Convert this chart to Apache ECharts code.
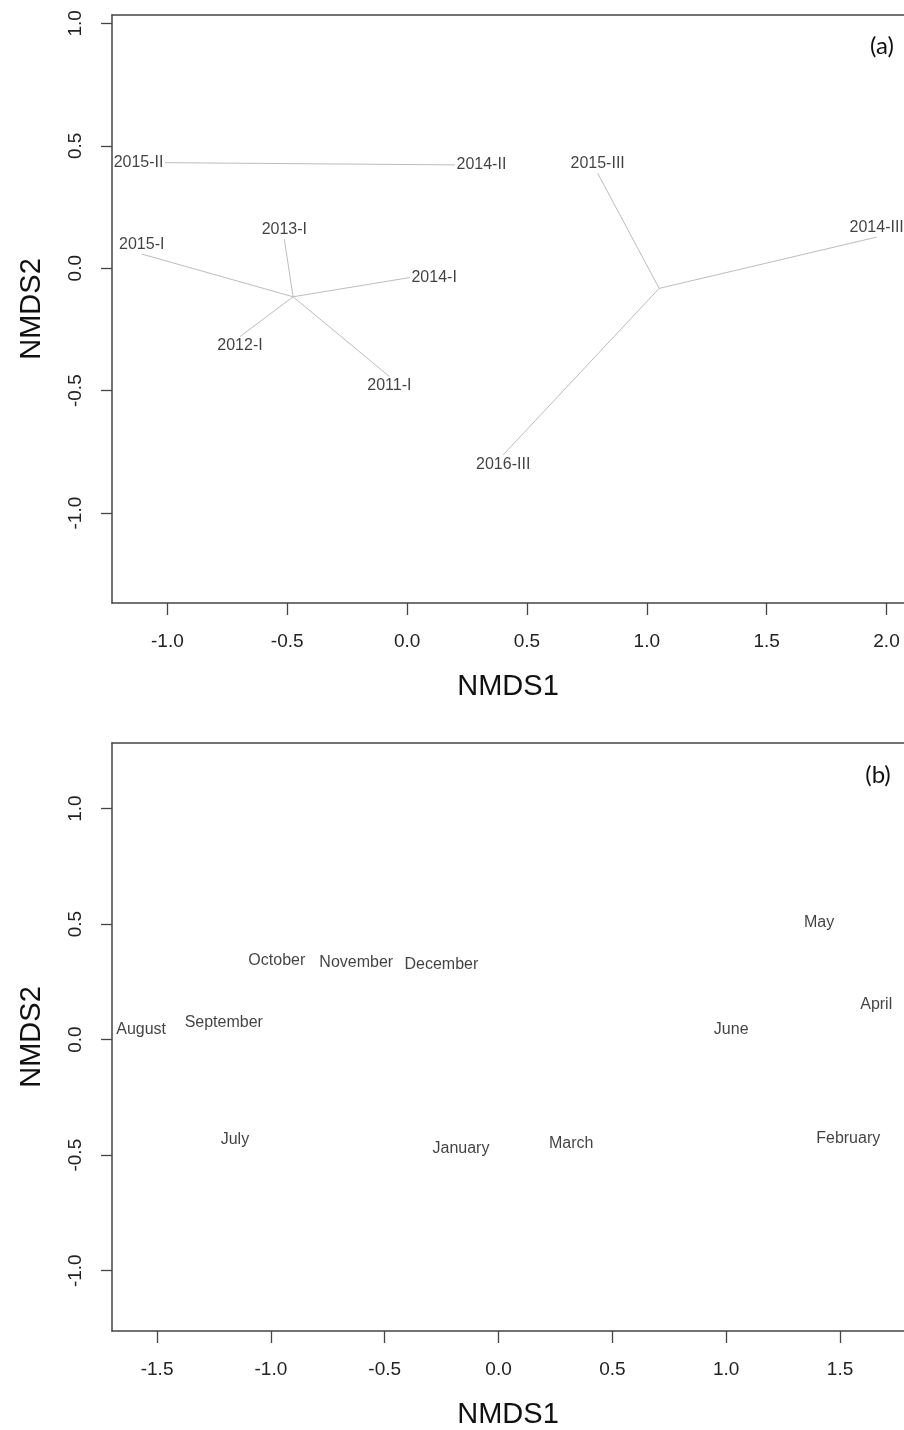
<!DOCTYPE html>
<html><head><meta charset="utf-8">
<script src="https://cdn.jsdelivr.net/npm/echarts@6/dist/echarts.min.js"></script>
<style>html,body{margin:0;padding:0;background:#fff}#c{width:904px;height:1430px}</style>
</head><body><div id="c"></div>
<script>
// ---------- Panel (a): sites, grouped (spider to group centroid) ----------
const sitesA  = ['2011-I','2012-I','2013-I','2014-I','2015-I','2014-II','2015-II','2014-III','2015-III','2016-III'];
const groupA  = ['I','I','I','I','I','II','II','III','III','III'];
const nmds1A  = [-0.074,-0.697,-0.512, 0.012,-1.107, 0.200,-1.010, 1.959, 0.795, 0.401];
const nmds2A  = [-0.442,-0.279, 0.118,-0.038, 0.058, 0.422, 0.431, 0.127, 0.388,-0.762];
const ticksAx = [-1.0,-0.5,0.0,0.5,1.0,1.5,2.0];
const ticksAy = [-1.0,-0.5,0.0,0.5,1.0];

// ---------- Panel (b): months ----------
const months  = ['January','February','March','April','May','June','July','August','September','October','November','December'];
const nmds1B  = [-0.165, 1.536, 0.319, 1.659, 1.408, 1.022,-1.158,-1.570,-1.207,-0.974,-0.625,-0.251];
const nmds2B  = [-0.473,-0.430,-0.452, 0.151, 0.508, 0.044,-0.433, 0.045, 0.072, 0.341, 0.332, 0.326];
const ticksBx = [-1.5,-1.0,-0.5,0.0,0.5,1.0,1.5];
const ticksBy = [-1.0,-0.5,0.0,0.5,1.0];

// ---------- styling ----------
const FONT = 'Liberation Sans, Arial, Helvetica, sans-serif';
const AX = '#444';
const labelSide = {'2011-I':'bottom','2012-I':'bottom','2013-I':'top','2014-I':'right','2015-I':'top',
  '2014-II':'right','2015-II':'left','2014-III':'top','2015-III':'top','2016-III':'bottom'};

// centroids (ordispider)
const cent = {};
groupA.forEach((g,i)=>{ if(!cent[g]) cent[g]={x:0,y:0,n:0}; cent[g].x+=nmds1A[i]; cent[g].y+=nmds2A[i]; cent[g].n++; });
const spider = sitesA.map((s,i)=>{ const c=cent[groupA[i]]; return {coords:[[c.x/c.n,c.y/c.n],[nmds1A[i],nmds2A[i]]]}; });

const fmt = v => Number(v).toFixed(1);
function xAxes(gi, min, max, ticks){
  return [
    {gridIndex:gi, type:'value', position:'bottom', min, max,
     axisLine:{show:true,onZero:false,lineStyle:{color:AX,width:1.5}},
     axisTick:{show:true,length:12,customValues:ticks,lineStyle:{color:AX,width:1.3}},
     axisLabel:{customValues:ticks,formatter:fmt,margin:29,fontSize:19,color:'#222',fontFamily:FONT},
     splitLine:{show:false},
     name:'NMDS1',nameLocation:'middle',nameGap:69,
     nameTextStyle:{fontSize:29,color:'#111',fontFamily:FONT}},
    {gridIndex:gi, type:'value', position:'top', min, max,
     axisLine:{show:true,onZero:false,lineStyle:{color:AX,width:1.5}},
     axisTick:{show:false}, axisLabel:{show:false}, splitLine:{show:false}}
  ];
}
function yAxis(gi, min, max, ticks){
  return {gridIndex:gi, type:'value', position:'left', min, max,
    axisLine:{show:true,onZero:false,lineStyle:{color:AX,width:1.5}},
    axisTick:{show:true,length:11,customValues:ticks,lineStyle:{color:AX,width:1.3}},
    axisLabel:{customValues:ticks,formatter:fmt,rotate:90,margin:27,fontSize:19,color:'#222',fontFamily:FONT},
    splitLine:{show:false},
    name:'NMDS2',nameLocation:'middle',nameGap:66,
    nameTextStyle:{fontSize:29,color:'#111',fontFamily:FONT}};
}

const chart = echarts.init(document.getElementById('c'), null, {renderer:'canvas'});
chart.setOption({
  animation:false,
  backgroundColor:'#fff',
  grid:[
    {left:112, right:0, top:15, height:588},
    {left:112, right:0, top:743, height:588}
  ],
  xAxis:[...xAxes(0,-1.231,2.073,ticksAx), ...xAxes(1,-1.698,1.781,ticksBx)],
  yAxis:[yAxis(0,-1.367,1.034,ticksAy), yAxis(1,-1.261,1.284,ticksBy)],
  graphic:[
    {type:'text', x:882, y:46, style:{text:'(a)', align:'center', verticalAlign:'middle', font:'24px Lato, "Open Sans", sans-serif', fill:'#111'}},
    {type:'text', x:878, y:775, style:{text:'(b)', align:'center', verticalAlign:'middle', font:'24px Lato, "Open Sans", sans-serif', fill:'#111'}}
  ],
  series:[
    {type:'lines', coordinateSystem:'cartesian2d', xAxisIndex:0, yAxisIndex:0, z:1,
     lineStyle:{color:'#bdbdbd', width:1, opacity:1, curveness:0}, data:spider, silent:true},
    {type:'scatter', xAxisIndex:0, yAxisIndex:0, z:3, symbolSize:1,
     itemStyle:{color:'rgba(0,0,0,0)'},
     data:sitesA.map((s,i)=>({name:s, value:[nmds1A[i],nmds2A[i]],
        label:{position:labelSide[s]}})),
     label:{show:true, formatter:p=>p.name, distance:1, fontSize:16, color:'#111', fontFamily:FONT}},
    {type:'scatter', xAxisIndex:2, yAxisIndex:1, z:3, symbolSize:1,
     itemStyle:{color:'rgba(0,0,0,0)'},
     data:months.map((m,i)=>({name:m, value:[nmds1B[i],nmds2B[i]]})),
     label:{show:true, position:'inside', formatter:p=>p.name, fontSize:16, color:'#111', fontFamily:FONT}}
  ]
});
</script></body></html>
